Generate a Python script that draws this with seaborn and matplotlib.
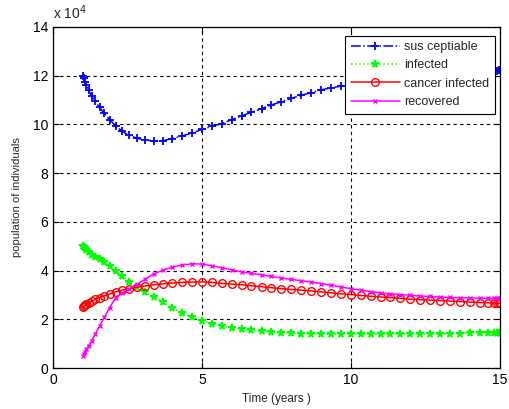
import matplotlib
matplotlib.use("Agg")
import matplotlib.pyplot as plt
from matplotlib.lines import Line2D
import pandas as pd
import seaborn as sns

# Solver output times (years)
time = [1.0, 1.03, 1.07, 1.12, 1.2, 1.3, 1.42, 1.56, 1.72, 1.9, 2.1, 2.32, 2.56,
        2.82, 3.1, 3.4, 3.7, 4.0, 4.33, 4.66, 5.0, 5.33, 5.66, 6.0, 6.33, 6.66,
        7.0, 7.33, 7.66, 8.0, 8.33, 8.66, 9.0, 9.33, 9.66, 10.0, 10.33, 10.66,
        11.0, 11.33, 11.66, 12.0, 12.33, 12.66, 13.0, 13.33, 13.66, 14.0, 14.33,
        14.6, 14.8, 14.9, 14.96, 15.0]

# Populations in units of 10^4 individuals
susceptible = [12.0, 11.9, 11.75, 11.6, 11.4, 11.15, 10.95, 10.7, 10.45, 10.2,
               9.95, 9.72, 9.55, 9.43, 9.36, 9.32, 9.34, 9.42, 9.53, 9.64, 9.8,
               9.92, 10.03, 10.2, 10.35, 10.5, 10.65, 10.8, 10.93, 11.07, 11.2,
               11.3, 11.42, 11.5, 11.57, 11.64, 11.7, 11.76, 11.82, 11.87, 11.92,
               11.96, 12.0, 12.04, 12.07, 12.1, 12.13, 12.16, 12.18, 12.2, 12.21,
               12.21, 12.22, 12.22]
infected = [5.0, 4.97, 4.92, 4.85, 4.75, 4.65, 4.58, 4.48, 4.35, 4.18, 4.0, 3.8,
            3.55, 3.32, 3.12, 2.92, 2.7, 2.47, 2.28, 2.09, 1.94, 1.83, 1.73, 1.66,
            1.6, 1.55, 1.51, 1.47, 1.45, 1.43, 1.42, 1.41, 1.4, 1.4, 1.4, 1.4,
            1.4, 1.4, 1.4, 1.4, 1.4, 1.4, 1.4, 1.4, 1.4, 1.41, 1.42, 1.44, 1.45,
            1.46, 1.46, 1.46, 1.46, 1.46]
cancer_infected = [2.5, 2.53, 2.57, 2.62, 2.67, 2.74, 2.82, 2.89, 2.96, 3.04,
                   3.13, 3.2, 3.26, 3.32, 3.37, 3.42, 3.46, 3.49, 3.52, 3.53,
                   3.54, 3.52, 3.48, 3.45, 3.42, 3.38, 3.34, 3.3, 3.26, 3.23,
                   3.2, 3.17, 3.13, 3.09, 3.05, 3.02, 2.98, 2.95, 2.92, 2.9,
                   2.86, 2.83, 2.81, 2.79, 2.77, 2.75, 2.73, 2.71, 2.69, 2.68,
                   2.67, 2.66, 2.66, 2.66]
recovered = [0.5, 0.56, 0.66, 0.78, 0.92, 1.12, 1.4, 1.72, 2.08, 2.48, 2.88,
             3.08, 3.25, 3.44, 3.65, 3.88, 4.02, 4.14, 4.23, 4.28, 4.27, 4.2,
             4.12, 4.03, 3.95, 3.89, 3.83, 3.76, 3.7, 3.64, 3.59, 3.53, 3.47,
             3.4, 3.33, 3.26, 3.2, 3.14, 3.09, 3.05, 3.02, 2.99, 2.96, 2.94,
             2.92, 2.9, 2.89, 2.88, 2.87, 2.86, 2.86, 2.86, 2.86, 2.86]

labels = ["sus ceptiable", "infected", "cancer infected", "recovered"]
x_ticks = [0, 5, 10, 15]
y_ticks = [0, 2, 4, 6, 8, 10, 12, 14]

df = pd.DataFrame({"time": time, "S": susceptible, "I": infected,
                   "C": cancer_infected, "R": recovered})

sns.set_style("white")
plt.rcParams["font.family"] = ["Liberation Sans", "DejaVu Sans"]

fig = plt.figure(figsize=(5.10, 4.09), dpi=100)
ax = fig.add_axes([0.104, 0.100, 0.876, 0.834])

styles = [
    ("S", "#0000ff", "-.", "+", 6, 1.1, 1.3),
    ("I", "#00ff00", ":", "*", 5.5, 1.1, 1.2),
    ("C", "#ff0000", "-", "o", 5.5, 1.1, 1.0),
    ("R", "#ff00ff", "-", "x", 3.5, 1.1, 1.0),
]
handles = []
for (col, color, ls, mk, ms, lw, mew), lab in zip(styles, labels):
    kw = dict(marker=mk, markersize=ms, linestyle=ls, color=color, linewidth=lw,
              markeredgecolor=color, markeredgewidth=mew)
    if mk == "o":
        kw["markerfacecolor"] = "none"
    sns.lineplot(data=df, x="time", y=col, ax=ax, sort=False, legend=False,
                 estimator=None, **kw)
    handles.append(Line2D([0], [0], label=lab, **kw))

ax.set_xlim(0, 15)
ax.set_ylim(0, 14)
ax.set_xticks(x_ticks)
ax.set_yticks(y_ticks)
ax.grid(True, color="black", linestyle=(0, (3, 3)), linewidth=0.8)
for s in ax.spines.values():
    s.set_color("black")
    s.set_linewidth(0.9)
ax.tick_params(direction="in", length=4, width=0.8, labelsize=10,
               colors="black", top=True, right=True, bottom=True, left=True,
               labeltop=False, labelright=False)
ax.set_xlabel("Time (years )", fontsize=8.5, labelpad=4)
ax.set_ylabel("population of individuals", fontsize=8, labelpad=8)
ax.text(0.0, 1.015, r"x 10$^{4}$", transform=ax.transAxes, fontsize=10,
        ha="left", va="bottom")

leg = ax.legend(handles=handles, loc="upper right",
                bbox_to_anchor=(0.989, 0.975), frameon=True, fancybox=False,
                edgecolor="black", framealpha=1, fontsize=9,
                handlelength=3.9, borderpad=0.45, labelspacing=0.5,
                handletextpad=0.35, borderaxespad=0.0)
leg.get_frame().set_linewidth(0.8)

fig.savefig("out.png", dpi=100, facecolor="white")
